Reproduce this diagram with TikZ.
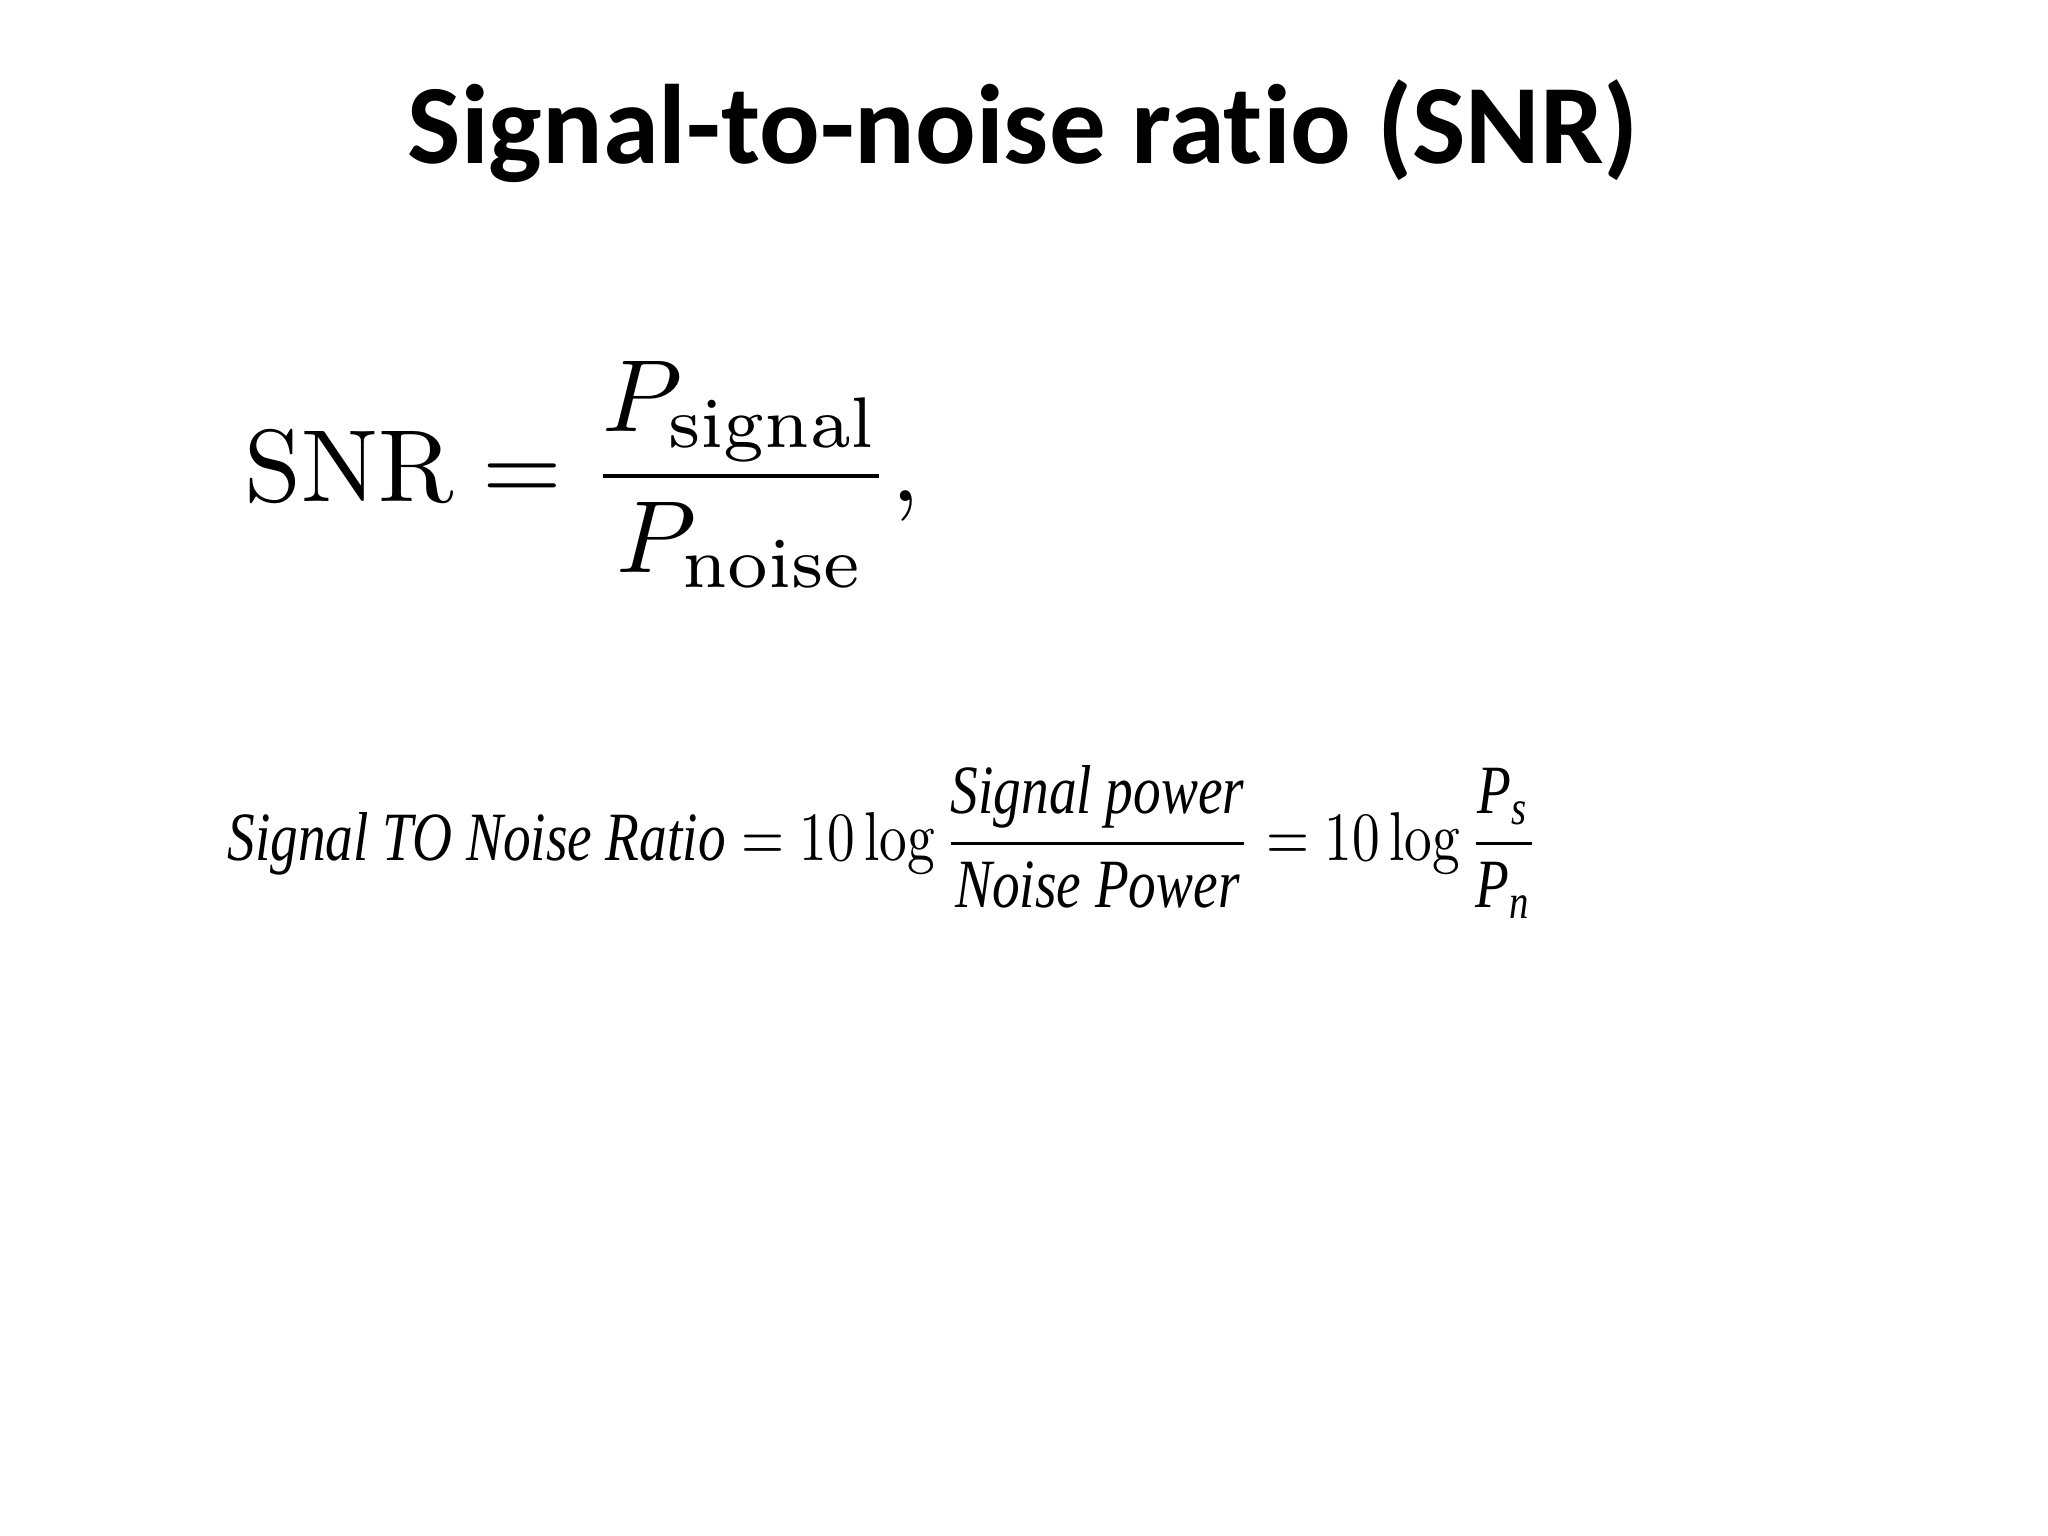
\documentclass[tikz,border=0pt]{standalone}
\usepackage{fontspec}
\usepackage{amsmath}
\usepackage{graphicx}
\newfontfamily\titlefont[Ligatures=CommonOff]{Carlito}
\newfontfamily\formfont{Liberation Serif}
\begin{document}
\begin{tikzpicture}[x=0.01cm,y=-0.01cm]
\useasboundingbox (0,0) rectangle (2048,1536);
\node (title) at (1023,131) {\resizebox{12.3cm}{!}{\titlefont\bfseries Signal-to-noise ratio (SNR)}};
\node[anchor=west] (snr) at (232,475) {\resizebox{6.75cm}{!}{$\mathrm{SNR}=\dfrac{P_{\mathrm{signal}}}{P_{\mathrm{noise}}},$}};
\node[anchor=west] (db) at (215,842) {\resizebox{13.1cm}{!}{\scalebox{0.8}[1]{\formfont $\textit{Signal TO Noise Ratio} = 10\log\dfrac{\textit{Signal power}}{\textit{Noise Power}} = 10\log\dfrac{\textit{P}_{\textit{s}}}{\textit{P}_{\textit{n}}}$}}};
\end{tikzpicture}
\end{document}
